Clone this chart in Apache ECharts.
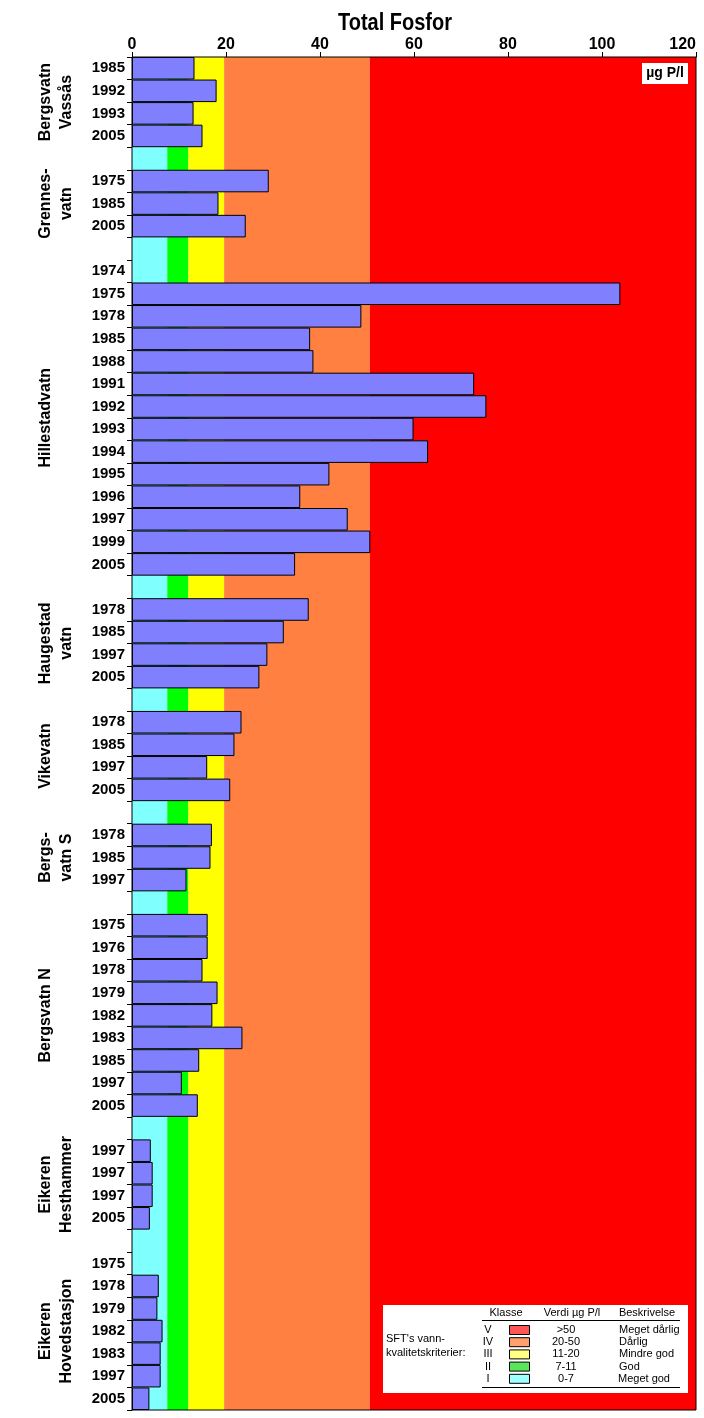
<!DOCTYPE html>
<html><head><meta charset="utf-8">
<script src="https://cdn.jsdelivr.net/npm/echarts@6/dist/echarts.min.js"></script>
<style>html,body{margin:0;padding:0;background:#fff;overflow:hidden}#c{width:704px;height:1418px}</style>
</head><body><div id="c"></div>
<script>
// ---------- DATA ----------
const chartTitle = 'Total Fosfor';
const unitLabel = 'µg P/l';
const groupNames = ['Bergsvatn\nVassås', 'Grennes-\nvatn', 'Hillestadvatn', 'Haugestad\nvatn', 'Vikevatn', 'Bergs-\nvatn S', 'Bergsvatn N', 'Eikeren\nHesthammer', 'Eikeren\nHovedstasjon'];
const yearsBergsvatnVassas = ['1985', '1992', '1993', '2005'];
const valuesBergsvatnVassas = [13.3, 18.0, 13.1, 15.0];
const yearsGrennesvatn = ['1975', '1985', '2005'];
const valuesGrennesvatn = [29.1, 18.4, 24.2];
const yearsHillestadvatn = ['1974', '1975', '1978', '1985', '1988', '1991', '1992', '1993', '1994', '1995', '1996', '1997', '1999', '2005'];
const valuesHillestadvatn = [null, 103.9, 48.8, 37.9, 38.6, 72.8, 75.4, 59.9, 63.0, 42.0, 35.8, 45.9, 50.7, 34.7];
const yearsHaugestadvatn = ['1978', '1985', '1997', '2005'];
const valuesHaugestadvatn = [37.6, 32.3, 28.8, 27.1];
const yearsVikevatn = ['1978', '1985', '1997', '2005'];
const valuesVikevatn = [23.3, 21.8, 16.0, 20.9];
const yearsBergsvatnS = ['1978', '1985', '1997'];
const valuesBergsvatnS = [17.0, 16.7, 11.6];
const yearsBergsvatnN = ['1975', '1976', '1978', '1979', '1982', '1983', '1985', '1997', '2005'];
const valuesBergsvatnN = [16.1, 16.1, 15.0, 18.2, 17.1, 23.5, 14.3, 10.6, 14.0];
const yearsEikerenHesthammer = ['1997', '1997', '1997', '2005'];
const valuesEikerenHesthammer = [4.0, 4.4, 4.4, 3.8];
const yearsEikerenHovedstasjon = ['1975', '1978', '1979', '1982', '1983', '1997', '2005'];
const valuesEikerenHovedstasjon = [null, 5.7, 5.4, 6.5, 6.1, 6.1, 3.7];
const xTickMin = 0, xTickMax = 120, xTickStep = 20;
// water quality class bands (as drawn in the picture)
const bandEdges = [0, 7.5, 12, 19.6, 50.6, 120];
const bandColors = ['#80FFFF', '#00FF00', '#FFFF00', '#FF8040', '#FF0000'];
// legend table
const legendIntro = "SFT's vann-\nkvalitetskriterier:";
const legendHeaders = ['Klasse', 'Verdi µg P/l', 'Beskrivelse'];
const legendClasses = ['V', 'IV', 'III', 'II', 'I'];
const legendRanges = ['>50', '20-50', '11-20', '7-11', '0-7'];
const legendDescriptions = ['Meget dårlig', 'Dårlig', 'Mindre god', 'God', 'Meget god'];
const legendSwatches = ['#FF5555', '#FF9F6E', '#FFFF82', '#5AE65A', '#A0FFFF'];

// ---------- BUILD ----------
const groupYears = [yearsBergsvatnVassas, yearsGrennesvatn, yearsHillestadvatn, yearsHaugestadvatn, yearsVikevatn, yearsBergsvatnS, yearsBergsvatnN, yearsEikerenHesthammer, yearsEikerenHovedstasjon];
const groupValues = [valuesBergsvatnVassas, valuesGrennesvatn, valuesHillestadvatn, valuesHaugestadvatn, valuesVikevatn, valuesBergsvatnS, valuesBergsvatnN, valuesEikerenHesthammer, valuesEikerenHovedstasjon];
const categories = [], values = [], groupSpans = [];
groupYears.forEach((ys, gi) => {
  const start = categories.length;
  ys.forEach((y, i) => { categories.push(y); values.push(groupValues[gi][i]); });
  groupSpans.push([start, categories.length - 1]);
  if (gi < groupYears.length - 1) { categories.push(''); values.push(null); }
});

const FONT = "'Liberation Sans', Arial, sans-serif";
const chart = echarts.init(document.getElementById('c'), null, {renderer: 'canvas'});
const bandData = bandColors.map((c, i) => [
  {xAxis: bandEdges[i], itemStyle: {color: c}},
  {xAxis: bandEdges[i + 1]}
]);

chart.setOption({
  animation: false,
  backgroundColor: '#ffffff',
  grid: {left: 132, right: 8, top: 57, bottom: 8, containLabel: false, outerBoundsMode: 'none'},
  xAxis: {
    type: 'value', position: 'top', min: xTickMin, max: xTickMax, interval: xTickStep,
    axisLine: {show: true, lineStyle: {color: '#000', width: 1}},
    axisTick: {show: true, length: 5, lineStyle: {color: '#000'}},
    axisLabel: {color: '#000', fontFamily: FONT, fontWeight: 'bold', fontSize: 16, margin: 4, alignMaxLabel: 'right'},
    splitLine: {show: false}
  },
  yAxis: {
    type: 'category', inverse: true, data: categories,
    axisLine: {show: true, lineStyle: {color: '#000', width: 1}},
    axisTick: {show: true, length: 5, interval: 0, lineStyle: {color: '#000'}},
    axisLabel: {interval: 0, color: '#000', fontFamily: FONT, fontWeight: 'bold', fontSize: 15, margin: 7},
    splitLine: {show: false}
  },
  series: [{
    type: 'bar', data: values, barCategoryGap: '0%',
    itemStyle: {color: '#8080FF', borderColor: '#000', borderWidth: 1},
    emphasis: {disabled: true},
    silent: true,
    markArea: {silent: true, label: {show: false}, emphasis: {disabled: true}, data: bandData}
  }]
});

// ---------- ANNOTATIONS ----------
const px0 = chart.convertToPixel({xAxisIndex: 0}, xTickMin);
const px1 = chart.convertToPixel({xAxisIndex: 0}, xTickMax);
const c0 = chart.convertToPixel({yAxisIndex: 0}, 0);
const c1 = chart.convertToPixel({yAxisIndex: 0}, 1);
const bw = c1 - c0;
const plotTop = c0 - bw / 2;
const plotBottom = chart.convertToPixel({yAxisIndex: 0}, categories.length - 1) + bw / 2;

const graphics = [];
// title
graphics.push({type: 'text', x: 395, y: 23, scaleY: 1.22, z: 100,
  style: {text: chartTitle, fill: '#000', font: 'bold 20px ' + FONT, align: 'center', verticalAlign: 'middle'}});
// frame
graphics.push({type: 'rect', z: 100, silent: true,
  shape: {x: px0, y: plotTop, width: px1 - px0, height: plotBottom - plotTop},
  style: {fill: null, stroke: '#000', lineWidth: 1}});
// unit box
graphics.push({type: 'rect', z: 100, shape: {x: px1 - 54, y: plotTop + 6, width: 46, height: 21}, style: {fill: '#fff'}});
graphics.push({type: 'text', z: 101, x: px1 - 31, y: plotTop + 16.5,
  style: {text: unitLabel, fill: '#000', font: 'bold 14px ' + FONT, align: 'center', verticalAlign: 'middle'}});
// group labels
groupSpans.forEach((sp, gi) => {
  const yc = (chart.convertToPixel({yAxisIndex: 0}, sp[0]) + chart.convertToPixel({yAxisIndex: 0}, sp[1])) / 2;
  const twoLine = groupNames[gi].indexOf('\n') >= 0;
  graphics.push({type: 'text', z: 100, x: twoLine ? 56 : 46, y: yc, rotation: Math.PI / 2,
    style: {text: groupNames[gi], fill: '#000', font: 'bold 16px ' + FONT, align: 'center', verticalAlign: 'middle', lineHeight: 21}});
});
// legend table
const LF = '11px ' + FONT;
graphics.push({type: 'rect', z: 100, shape: {x: 383, y: 1305, width: 305, height: 88}, style: {fill: '#fff'}});
graphics.push({type: 'text', z: 101, x: 386, y: 1346,
  style: {text: legendIntro, fill: '#000', font: LF, align: 'left', verticalAlign: 'middle', lineHeight: 14}});
[506, 572, 647].forEach((hx, i) => graphics.push({type: 'text', z: 101, x: hx, y: 1313,
  style: {text: legendHeaders[i], fill: '#000', font: LF, align: 'center', verticalAlign: 'middle'}}));
graphics.push({type: 'line', z: 101, shape: {x1: 482, y1: 1320.5, x2: 680, y2: 1320.5}, style: {stroke: '#000', lineWidth: 1}});
graphics.push({type: 'line', z: 101, shape: {x1: 482, y1: 1387.5, x2: 680, y2: 1387.5}, style: {stroke: '#000', lineWidth: 1}});
legendClasses.forEach((cl, i) => {
  const ry = 1330 + i * 12.2;
  graphics.push({type: 'text', z: 101, x: 488, y: ry, style: {text: cl, fill: '#000', font: LF, align: 'center', verticalAlign: 'middle'}});
  graphics.push({type: 'rect', z: 101, shape: {x: 509.5, y: ry - 4.5, width: 20, height: 9}, style: {fill: legendSwatches[i], stroke: '#000', lineWidth: 1}});
  graphics.push({type: 'text', z: 101, x: 566, y: ry, style: {text: legendRanges[i], fill: '#000', font: LF, align: 'center', verticalAlign: 'middle'}});
  graphics.push({type: 'text', z: 101, x: i === 4 ? 618 : 619, y: ry, style: {text: legendDescriptions[i], fill: '#000', font: LF, align: 'left', verticalAlign: 'middle'}});
});
chart.setOption({graphic: graphics});
</script></body></html>
